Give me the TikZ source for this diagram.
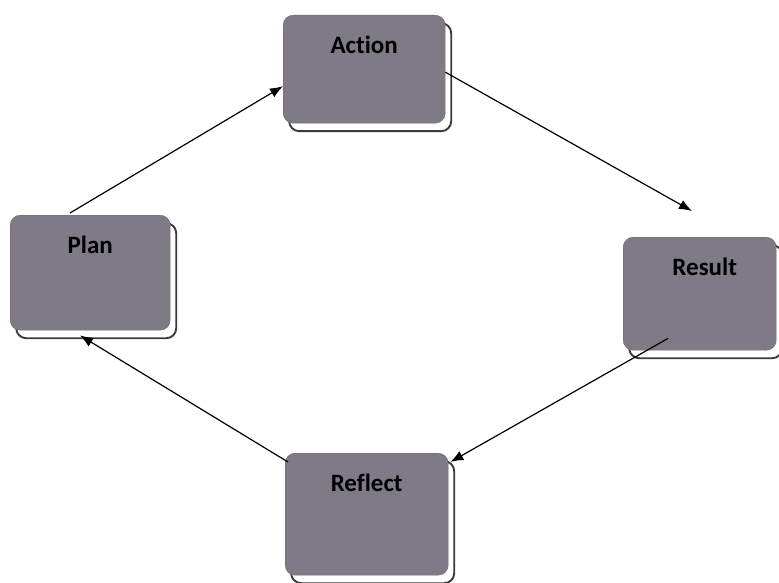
\documentclass[tikz,border=0pt]{standalone}
\usepackage{fontspec}
\setmainfont{Carlito}[RawFeature={-liga}]
\usetikzlibrary{arrows.meta,shadows}
\definecolor{boxfill}{RGB}{128,121,134}
\definecolor{shadowline}{RGB}{62,58,64}
\tikzset{
  stagebox/.style={
    rectangle, rounded corners=10pt, fill=boxfill, draw=boxfill!85!black,
    line width=0.4pt, inner sep=0pt, anchor=north west,
    general shadow={shadow xshift=6pt, shadow yshift=-8pt,
      fill=white, draw=shadowline, line width=1.9pt}
  },
  stagetext/.style={font=\fontsize{25}{30}\selectfont\bfseries, text=black, inner sep=0pt},
  flow/.style={line width=1.2pt, draw=black, -{Latex[length=13pt,width=10pt]}}
}
\begin{document}
\begin{tikzpicture}[x=1pt,y=-1pt]
  \useasboundingbox (0,0) rectangle (779,583);

  % the four stages of the cycle
  \node[stagebox, minimum width=162pt, minimum height=108pt] (action)  at (283,15)  {};
  \node[stagebox, minimum width=160pt, minimum height=115pt] (plan)    at (10,215)  {};
  \node[stagebox, minimum width=153pt, minimum height=113pt] (result)  at (623,237) {};
  \node[stagebox, minimum width=163pt, minimum height=122pt] (reflect) at (285,453) {};

  \node[stagetext] (actionlbl)  at ([yshift=-30pt]action.north)  {Action};
  \node[stagetext] (planlbl)    at ([yshift=-30pt]plan.north)    {Plan};
  \node[stagetext] (resultlbl)  at ([xshift=5pt,yshift=-30pt]result.north)  {Result};
  \node[stagetext] (reflectlbl) at ([yshift=-30pt]reflect.north) {Reflect};

  % free end of the arrow leaving Action
  \coordinate (towardresult) at (692,211);

  % arrows around the cycle
  \draw[flow] ([xshift=60pt,yshift=2pt]plan.north west) -- ([yshift=-17pt]action.west);
  \draw[flow] ([yshift=-3pt]action.east) -- (towardresult);
  \draw[flow] ([xshift=45pt,yshift=12pt]result.south west) -- ([xshift=2pt,yshift=-9pt]reflect.north east);
  \draw[flow] ([xshift=3pt,yshift=-9pt]reflect.north west) -- ([xshift=70pt,yshift=-5pt]plan.south west);
\end{tikzpicture}
\end{document}
